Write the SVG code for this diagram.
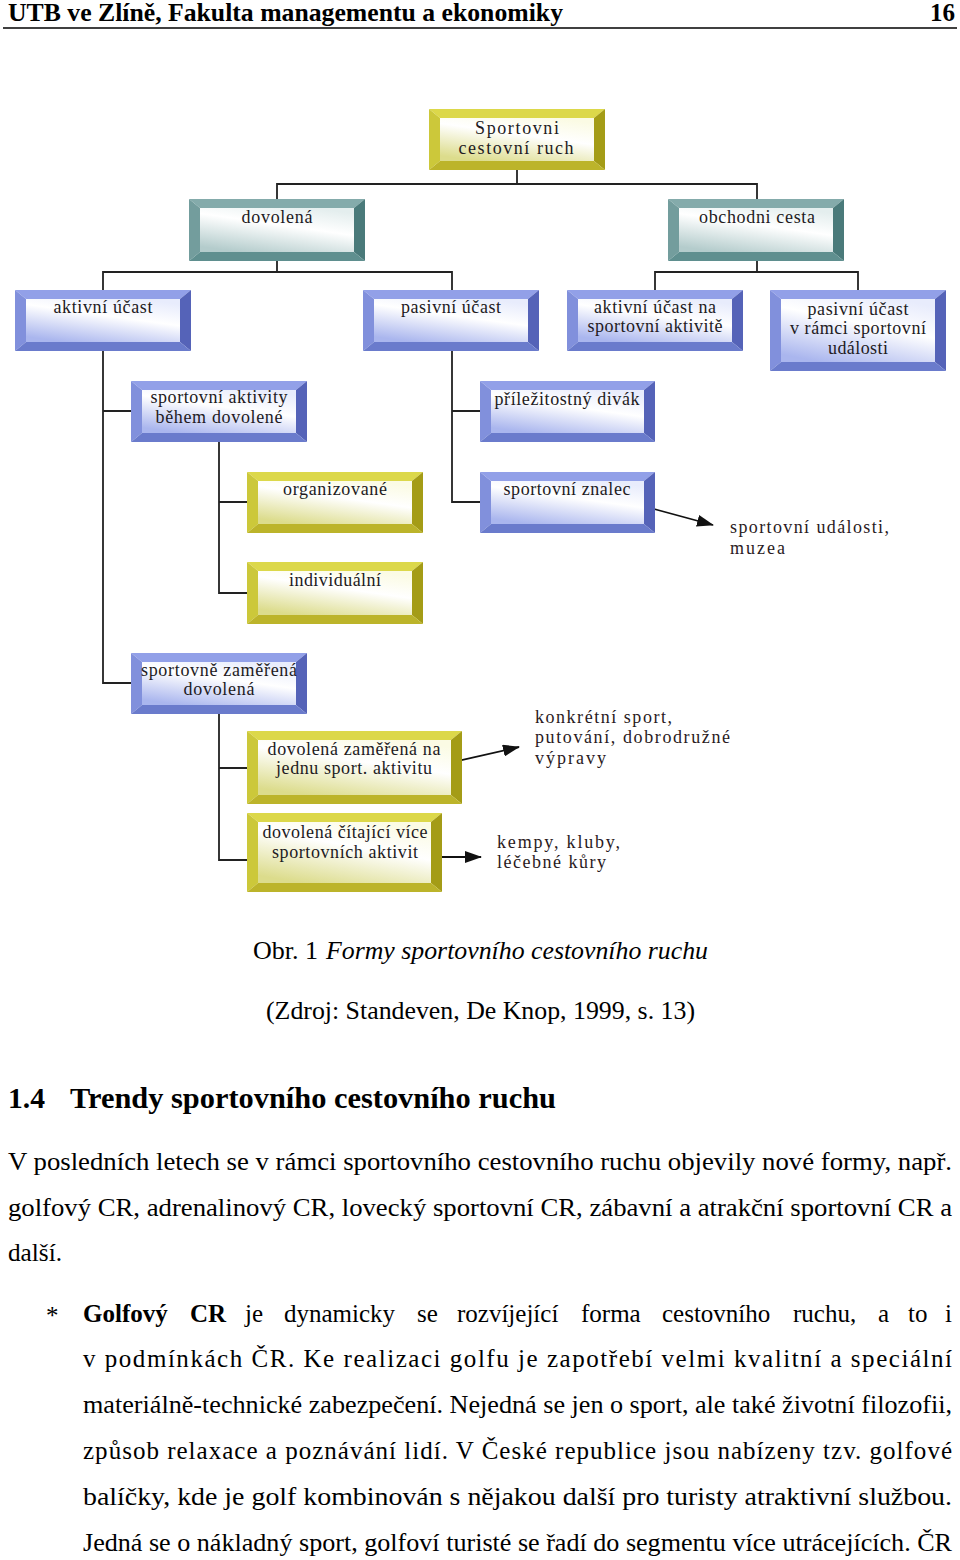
<svg xmlns="http://www.w3.org/2000/svg" width="960" height="1560" viewBox="0 0 960 1560">
<style>
.t{font-family:"Liberation Serif","Times New Roman",serif;fill:#000}
.b{font-weight:bold}
.i{font-style:italic}
.lb{font-family:"Liberation Serif","Times New Roman",serif;font-size:18px;fill:#221a22;text-anchor:middle}
.an{font-family:"Liberation Serif","Times New Roman",serif;font-size:18px;fill:#2a1a22}
.body{font-size:25px}
.con{fill:none;stroke:#222;stroke-width:1.8}
.arr{fill:none;stroke:#111;stroke-width:1.8;marker-end:url(#ah)}
.yT{fill:#dcd84a}.yL{fill:#ccc83a}.yR{fill:#a49c16}.yB{fill:#bcb42a}.yF{fill:url(#gy)}
.cT{fill:#84abab}.cL{fill:#739d9d}.cR{fill:#4a7a7a}.cB{fill:#5f8f8f}.cF{fill:url(#gc)}
.bT{fill:#92a0e8}.bL{fill:#8190dc}.bR{fill:#5563b8}.bB{fill:#6a7bcc}.bF{fill:url(#gb)}
</style>
<defs>
<linearGradient id="gy" x1="0.75" y1="0" x2="0.25" y2="1">
<stop offset="0" stop-color="#fbfbe4"/><stop offset="0.4" stop-color="#ffffff"/><stop offset="1" stop-color="#dcdc8c"/>
</linearGradient>
<linearGradient id="gc" x1="0.75" y1="0" x2="0.25" y2="1">
<stop offset="0" stop-color="#e4eeee"/><stop offset="0.4" stop-color="#ffffff"/><stop offset="1" stop-color="#b4cccc"/>
</linearGradient>
<linearGradient id="gb" x1="0.75" y1="0" x2="0.25" y2="1">
<stop offset="0" stop-color="#e8ecfc"/><stop offset="0.4" stop-color="#ffffff"/><stop offset="1" stop-color="#aab6ee"/>
</linearGradient>
<marker id="ah" markerUnits="userSpaceOnUse" markerWidth="18" markerHeight="12" refX="16" refY="6" orient="auto">
<path d="M0,0 L17,6 L0,12 Z" fill="#111"/>
</marker>
</defs>

<g id="page-header">
<text class="t b" x="8" y="21" font-size="25" textLength="555" lengthAdjust="spacingAndGlyphs">UTB ve Zlíně, Fakulta managementu a ekonomiky</text>
<text class="t b" x="955" y="21" font-size="25" text-anchor="end">16</text>
<line x1="3" y1="28" x2="957" y2="28" stroke="#000" stroke-width="1.5"/>
</g>

<g id="connectors">
<path class="con" d="M517,170V184"/>
<path class="con" d="M277,199V184H757V199"/>
<path class="con" d="M277,261V272H103V290M277,272H452V290"/>
<path class="con" d="M757,261V272H655V290M757,272H858V290"/>
<path class="con" d="M103,351V683H131M103,411H131"/>
<path class="con" d="M219,442V593H247M219,502H247"/>
<path class="con" d="M452,351V502H480M452,411H480"/>
<path class="con" d="M219,714V860H247M219,768H247"/>
<path class="arr" d="M654,509L713,525"/>
<path class="arr" d="M440,765L519,747"/>
<path class="arr" d="M420,857L481,857"/>
</g>

<g id="n-sportovni-cr">
<polygon class="yT" points="429,109 605,109 594,118 440,118"/>
<polygon class="yL" points="429,109 440,118 440,161 429,170"/>
<polygon class="yR" points="605,109 605,170 594,161 594,118"/>
<polygon class="yB" points="429,170 440,161 594,161 605,170"/>
<rect class="yF" x="440" y="118" width="154" height="43"/>
<text class="lb" x="517" y="134" textLength="84" lengthAdjust="spacing">Sportovni</text>
<text class="lb" x="516" y="154" textLength="115" lengthAdjust="spacing">cestovní ruch</text>
</g>

<g id="n-dovolena">
<polygon class="cT" points="189,199 365,199 354,208 200,208"/>
<polygon class="cL" points="189,199 200,208 200,252 189,261"/>
<polygon class="cR" points="365,199 365,261 354,252 354,208"/>
<polygon class="cB" points="189,261 200,252 354,252 365,261"/>
<rect class="cF" x="200" y="208" width="154" height="44"/>
<text class="lb" x="277" y="223" textLength="71" lengthAdjust="spacing">dovolená</text>
</g>

<g id="n-obchodni-cesta">
<polygon class="cT" points="668,199 844,199 833,208 679,208"/>
<polygon class="cL" points="668,199 679,208 679,252 668,261"/>
<polygon class="cR" points="844,199 844,261 833,252 833,208"/>
<polygon class="cB" points="668,261 679,252 833,252 844,261"/>
<rect class="cF" x="679" y="208" width="154" height="44"/>
<text class="lb" x="757" y="223" textLength="116" lengthAdjust="spacing">obchodni cesta</text>
</g>

<g id="n-aktivni-ucast">
<polygon class="bT" points="15,290 191,290 180,299 26,299"/>
<polygon class="bL" points="15,290 26,299 26,342 15,351"/>
<polygon class="bR" points="191,290 191,351 180,342 180,299"/>
<polygon class="bB" points="15,351 26,342 180,342 191,351"/>
<rect class="bF" x="26" y="299" width="154" height="43"/>
<text class="lb" x="103" y="313" textLength="99" lengthAdjust="spacing">aktivní účast</text>
</g>

<g id="n-pasivni-ucast">
<polygon class="bT" points="363,290 539,290 528,299 374,299"/>
<polygon class="bL" points="363,290 374,299 374,342 363,351"/>
<polygon class="bR" points="539,290 539,351 528,342 528,299"/>
<polygon class="bB" points="363,351 374,342 528,342 539,351"/>
<rect class="bF" x="374" y="299" width="154" height="43"/>
<text class="lb" x="451" y="313" textLength="100" lengthAdjust="spacing">pasivní účast</text>
</g>

<g id="n-aktivni-ucast-na">
<polygon class="bT" points="567,290 743,290 732,299 578,299"/>
<polygon class="bL" points="567,290 578,299 578,342 567,351"/>
<polygon class="bR" points="743,290 743,351 732,342 732,299"/>
<polygon class="bB" points="567,351 578,342 732,342 743,351"/>
<rect class="bF" x="578" y="299" width="154" height="43"/>
<text class="lb" x="655" y="313" textLength="122" lengthAdjust="spacing">aktivní účast na</text>
<text class="lb" x="655" y="332" textLength="135" lengthAdjust="spacing">sportovní aktivitě</text>
</g>

<g id="n-pasivni-ucast-v-ramci">
<polygon class="bT" points="770,290 946,290 935,299 781,299"/>
<polygon class="bL" points="770,290 781,299 781,362 770,371"/>
<polygon class="bR" points="946,290 946,371 935,362 935,299"/>
<polygon class="bB" points="770,371 781,362 935,362 946,371"/>
<rect class="bF" x="781" y="299" width="154" height="63"/>
<text class="lb" x="858" y="315" textLength="101" lengthAdjust="spacing">pasivní účast</text>
<text class="lb" x="858" y="334" textLength="136" lengthAdjust="spacing">v rámci sportovní</text>
<text class="lb" x="858" y="354" textLength="60" lengthAdjust="spacing">události</text>
</g>

<g id="n-sportovni-aktivity">
<polygon class="bT" points="131,381 307,381 296,390 142,390"/>
<polygon class="bL" points="131,381 142,390 142,433 131,442"/>
<polygon class="bR" points="307,381 307,442 296,433 296,390"/>
<polygon class="bB" points="131,442 142,433 296,433 307,442"/>
<rect class="bF" x="142" y="390" width="154" height="43"/>
<text class="lb" x="219" y="403" textLength="137" lengthAdjust="spacing">sportovní aktivity</text>
<text class="lb" x="219" y="423" textLength="127" lengthAdjust="spacing">během dovolené</text>
</g>

<g id="n-prilezitostny-divak">
<polygon class="bT" points="480,381 655,381 644,390 491,390"/>
<polygon class="bL" points="480,381 491,390 491,433 480,442"/>
<polygon class="bR" points="655,381 655,442 644,433 644,390"/>
<polygon class="bB" points="480,442 491,433 644,433 655,442"/>
<rect class="bF" x="491" y="390" width="153" height="43"/>
<text class="lb" x="567" y="405" textLength="145" lengthAdjust="spacing">příležitostný divák</text>
</g>

<g id="n-organizovane">
<polygon class="yT" points="247,472 423,472 412,481 258,481"/>
<polygon class="yL" points="247,472 258,481 258,524 247,533"/>
<polygon class="yR" points="423,472 423,533 412,524 412,481"/>
<polygon class="yB" points="247,533 258,524 412,524 423,533"/>
<rect class="yF" x="258" y="481" width="154" height="43"/>
<text class="lb" x="335" y="495" textLength="104" lengthAdjust="spacing">organizované</text>
</g>

<g id="n-sportovni-znalec">
<polygon class="bT" points="480,472 655,472 644,481 491,481"/>
<polygon class="bL" points="480,472 491,481 491,524 480,533"/>
<polygon class="bR" points="655,472 655,533 644,524 644,481"/>
<polygon class="bB" points="480,533 491,524 644,524 655,533"/>
<rect class="bF" x="491" y="481" width="153" height="43"/>
<text class="lb" x="567" y="495" textLength="127" lengthAdjust="spacing">sportovní znalec</text>
</g>

<g id="n-individualni">
<polygon class="yT" points="247,562 423,562 412,571 258,571"/>
<polygon class="yL" points="247,562 258,571 258,615 247,624"/>
<polygon class="yR" points="423,562 423,624 412,615 412,571"/>
<polygon class="yB" points="247,624 258,615 412,615 423,624"/>
<rect class="yF" x="258" y="571" width="154" height="44"/>
<text class="lb" x="335" y="586" textLength="92" lengthAdjust="spacing">individuální</text>
</g>

<g id="n-sportovne-zamerena">
<polygon class="bT" points="131,653 307,653 296,662 142,662"/>
<polygon class="bL" points="131,653 142,662 142,705 131,714"/>
<polygon class="bR" points="307,653 307,714 296,705 296,662"/>
<polygon class="bB" points="131,714 142,705 296,705 307,714"/>
<rect class="bF" x="142" y="662" width="154" height="43"/>
<text class="lb" x="219" y="676" textLength="156" lengthAdjust="spacing">sportovně zaměřená</text>
<text class="lb" x="219" y="695" textLength="71" lengthAdjust="spacing">dovolená</text>
</g>

<g id="n-jedna-aktivita">
<polygon class="yT" points="247,731 462,731 451,740 258,740"/>
<polygon class="yL" points="247,731 258,740 258,795 247,804"/>
<polygon class="yR" points="462,731 462,804 451,795 451,740"/>
<polygon class="yB" points="247,804 258,795 451,795 462,804"/>
<rect class="yF" x="258" y="740" width="193" height="55"/>
<text class="lb" x="354" y="755" textLength="173" lengthAdjust="spacing">dovolená zaměřená na</text>
<text class="lb" x="354" y="774" textLength="156" lengthAdjust="spacing">jednu sport. aktivitu</text>
</g>

<g id="n-vice-aktivit">
<polygon class="yT" points="247,813 442,813 431,822 258,822"/>
<polygon class="yL" points="247,813 258,822 258,883 247,892"/>
<polygon class="yR" points="442,813 442,892 431,883 431,822"/>
<polygon class="yB" points="247,892 258,883 431,883 442,892"/>
<rect class="yF" x="258" y="822" width="173" height="61"/>
<text class="lb" x="345" y="838" textLength="165" lengthAdjust="spacing">dovolená čítající více</text>
<text class="lb" x="345" y="858" textLength="146" lengthAdjust="spacing">sportovních aktivit</text>
</g>

<g id="a-udalosti">
<text class="an" x="730" y="533" textLength="159" lengthAdjust="spacing">sportovní události,</text>
<text class="an" x="730" y="554" textLength="55" lengthAdjust="spacing">muzea</text>
</g>
<g id="a-konkretni">
<text class="an" x="535" y="723" textLength="137" lengthAdjust="spacing">konkrétní sport,</text>
<text class="an" x="535" y="743" textLength="195" lengthAdjust="spacing">putování, dobrodružné</text>
<text class="an" x="535" y="764" textLength="71" lengthAdjust="spacing">výpravy</text>
</g>
<g id="a-kempy">
<text class="an" x="497" y="848" textLength="123" lengthAdjust="spacing">kempy, kluby,</text>
<text class="an" x="497" y="868" textLength="109" lengthAdjust="spacing">léčebné kůry</text>
</g>

<g id="caption">
<text class="t body" x="253" y="959" textLength="65" lengthAdjust="spacingAndGlyphs">Obr. 1</text>
<text class="t body i" x="326" y="959" textLength="382" lengthAdjust="spacingAndGlyphs">Formy sportovního cestovního ruchu</text>
<text class="t body" x="266" y="1019" textLength="429" lengthAdjust="spacingAndGlyphs">(Zdroj: Standeven, De Knop, 1999, s. 13)</text>
</g>

<g id="text-body">
<text class="t b" x="8" y="1108" font-size="29" textLength="37" lengthAdjust="spacingAndGlyphs">1.4</text>
<text class="t b" x="70" y="1108" font-size="29" textLength="486" lengthAdjust="spacingAndGlyphs">Trendy sportovního cestovního ruchu</text>
<text class="t body" x="8" y="1170" textLength="944" lengthAdjust="spacingAndGlyphs">V posledních letech se v rámci sportovního cestovního ruchu objevily nové formy, např.</text>
<text class="t body" x="8" y="1216" textLength="944" lengthAdjust="spacingAndGlyphs">golfový CR, adrenalinový CR, lovecký sportovní CR, zábavní a atrakční sportovní CR a</text>
<text class="t body" x="8" y="1261" textLength="54" lengthAdjust="spacingAndGlyphs">další.</text>
<text class="t body" x="46" y="1324">*</text>
<text class="t body b" y="1322"><tspan x="83">Golfový</tspan><tspan x="190">CR</tspan></text>
<text class="t body" y="1322"><tspan x="245">je</tspan><tspan x="284">dynamicky</tspan><tspan x="417">se</tspan><tspan x="457">rozvíjející</tspan><tspan x="581">forma</tspan><tspan x="662">cestovního</tspan><tspan x="793">ruchu,</tspan><tspan x="878">a</tspan><tspan x="908">to</tspan><tspan x="945">i</tspan></text>
<text class="t body" x="83" y="1367" textLength="869" lengthAdjust="spacing">v podmínkách ČR. Ke realizaci golfu je zapotřebí velmi kvalitní a speciální</text>
<text class="t body" x="83" y="1413" textLength="869" lengthAdjust="spacingAndGlyphs">materiálně-technické zabezpečení. Nejedná se jen o sport, ale také životní filozofii,</text>
<text class="t body" x="83" y="1459" textLength="869" lengthAdjust="spacing">způsob relaxace a poznávání lidí. V České republice jsou nabízeny tzv. golfové</text>
<text class="t body" x="83" y="1505" textLength="869" lengthAdjust="spacingAndGlyphs">balíčky, kde je golf kombinován s nějakou další pro turisty atraktivní službou.</text>
<text class="t body" x="83" y="1551" textLength="869" lengthAdjust="spacingAndGlyphs">Jedná se o nákladný sport, golfoví turisté se řadí do segmentu více utrácejících. ČR</text>
</g>
</svg>
